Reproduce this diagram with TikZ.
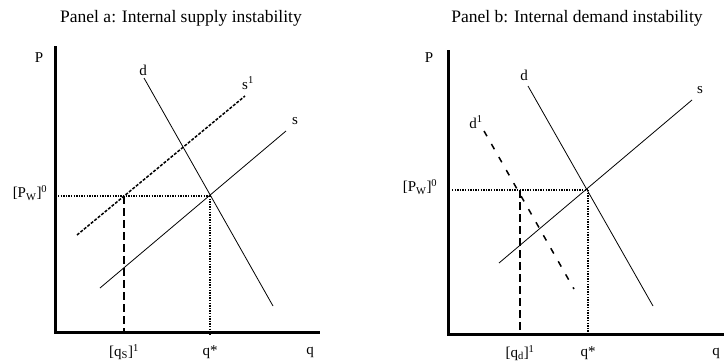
\documentclass[tikz,border=0pt]{standalone}
\usepackage{fontspec}
\setmainfont{Liberation Serif}
\begin{document}
\begin{tikzpicture}[x=1pt,y=-1pt,
  lbl/.style={inner sep=0pt,font=\fontsize{15}{17}\selectfont},
  ttl/.style={inner sep=0pt,font=\fontsize{17.5}{20}\selectfont},
  axis/.style={line width=3pt},
  curve/.style={line width=0.8pt},
  guide/.style={line width=1.3pt,dash pattern=on 1.3pt off 1.3pt},
  qline/.style={line width=1.8pt,dash pattern=on 8pt off 4pt},
  sshift/.style={line width=1.5pt,dash pattern=on 3pt off 1.5pt},
  dshift/.style={line width=1.5pt,dash pattern=on 6pt off 9pt}]
\useasboundingbox (0,0) rectangle (724,362);
% ---------------- Panel a ----------------
\node[ttl] (ta) at (181,18) {Panel a: Internal supply instability};
\coordinate (aTop) at (55,46);
\coordinate (aO) at (55,332);
\coordinate (aR) at (320,332);
\draw[axis] (aTop) -- (aO) -- (aR);
\coordinate (ad1) at (144,78);
\coordinate (ad2) at (273,306);
\draw[curve] (ad1) -- (ad2);
\coordinate (as1) at (100,288);
\coordinate (as2) at (286,131);
\draw[curve] (as1) -- (as2);
\coordinate (asa) at (77,235);
\coordinate (asb) at (245,96);
\draw[sshift] (asa) -- (asb);
\coordinate (aE) at (210,196);
\coordinate (aPw) at (58,196);
\coordinate (aQs) at (124,196);
\coordinate (aQsB) at (124,332);
\coordinate (aQB) at (210,336);
\draw[guide] (aPw) -- (aE);
\draw[guide] (aE) -- (aQB);
\draw[qline] (aQs) -- (aQsB);
\node[lbl] (aP) at (39,58) {P};
\node[lbl] (adl) at (143,70) {d};
\node[lbl] (as1l) at (248,83) {s\textsuperscript{1}};
\node[lbl] (asl) at (295,121) {s};
\node[lbl] (aPwl) at (30,193) {[P\textsubscript{W}]\textsuperscript{0}};
\node[lbl] (aqsl) at (124,352) {[q\textsubscript{S}]\textsuperscript{1}};
\node[lbl] (aqstar) at (210,352) {q*};
\node[lbl] (aql) at (310,352) {q};
% ---------------- Panel b ----------------
\node[ttl] (tb) at (577,18) {Panel b: Internal demand instability};
\coordinate (bTop) at (448,50);
\coordinate (bO) at (448,334);
\coordinate (bR) at (724,334);
\draw[axis] (bTop) -- (bO) -- (bR);
\coordinate (bd1) at (528,86);
\coordinate (bd2) at (653,306);
\draw[curve] (bd1) -- (bd2);
\coordinate (bs1) at (499,263);
\coordinate (bs2) at (692,100);
\draw[curve] (bs1) -- (bs2);
\coordinate (bda) at (484,131);
\coordinate (bdb) at (574,289);
\draw[dshift] (bda) -- (bdb);
\coordinate (bE) at (588,190);
\coordinate (bPw) at (452,190);
\coordinate (bQd) at (520,190);
\coordinate (bQdB) at (520,334);
\coordinate (bQB) at (588,334);
\draw[guide] (bPw) -- (bE);
\draw[guide] (bE) -- (bQB);
\draw[qline] (bQd) -- (bQdB);
\node[lbl] (bP) at (429,58) {P};
\node[lbl] (bdl) at (524,75) {d};
\node[lbl] (bd1l) at (476,122) {d\textsuperscript{1}};
\node[lbl] (bsl) at (700,90) {s};
\node[lbl] (bPwl) at (420,187) {[P\textsubscript{W}]\textsuperscript{0}};
\node[lbl] (bqdl) at (520,353) {[q\textsubscript{d}]\textsuperscript{1}};
\node[lbl] (bqstar) at (588,353) {q*};
\node[lbl] (bql) at (716,353) {q};
\end{tikzpicture}
\end{document}
